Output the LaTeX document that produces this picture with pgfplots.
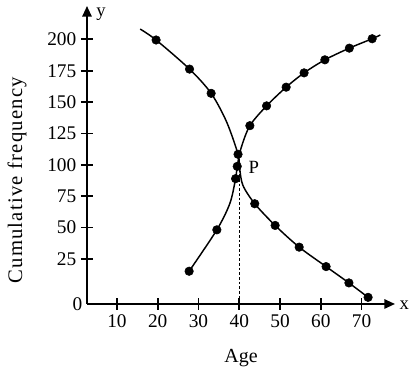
\documentclass[border=0pt]{standalone}
\usepackage{fontspec}
\setmainfont{Liberation Serif}
\usepackage{pgfplots}
\pgfplotsset{compat=1.18}
\usetikzlibrary{arrows.meta}
\begin{document}
\begin{tikzpicture}
\begin{axis}[
  scale only axis, width=231pt, height=223.5pt,
  xmin=2.65, xmax=78.2, ymin=-10.9, ymax=226.6,
  axis x line=bottom, axis y line=left,
  axis line style={line width=1.4pt, -{Triangle[length=8pt,width=7pt]}},
  xtick={10,20,...,70}, ytick={25,50,...,200},
  extra y ticks={-10.9}, extra y tick labels={0},
  extra y tick style={major tick length=0pt},
  tick align=center, major tick length=9pt,
  tick style={line width=1.3pt, black},
  ticklabel style={font=\fontsize{14.5}{17}\selectfont},
  /pgf/number format/assume math mode=true,
  xlabel={Age}, ylabel={Cumulative frequency},
  xlabel style={at={(axis description cs:0.5,-0.181)}, anchor=center, font=\fontsize{15}{18}\selectfont},
  ylabel style={at={(axis description cs:-0.227,0.415)}, anchor=center, font=\addfontfeatures{LetterSpace=6}\fontsize{15.5}{18}\selectfont},
  clip=false,
]
\coordinate (O) at (rel axis cs:0,0);
% less-than ogive
\addplot[line width=1.1pt, smooth, tension=0.5, black] coordinates {
 (27.7,15.2) (34.5,48.2) (37.7,69.3) (39.1,89.0) (39.5,98.8)
 (40.4,112.9) (42.6,131.2) (46.7,147)
 (51.5,161.9) (55.9,173.3) (61.0,183.7) (67.0,193) (72.6,200.5) (74.6,203.5)};
\addplot[only marks, mark=*, mark size=3.2pt, black] coordinates {
 (27.7,15.2) (34.5,48.2) (39.1,89.0) (39.5,98.8) (42.6,131.2) (46.7,147)
 (51.5,161.9) (55.9,173.3) (61.0,183.7) (67.0,193) (72.6,200.5)};
% more-than ogive
\addplot[line width=1.1pt, smooth, tension=0.5, black] coordinates {
 (15.7,208.2) (19.6,199.5) (27.8,176.3) (33.1,157) (36.9,134.2)
 (39.7,108.4) (40.1,97.0) (40.9,83.6)
 (43.8,69) (48.8,51.7) (54.7,34.4) (61.3,18.9) (66.9,5.9) (71.6,-5.6)};
\addplot[only marks, mark=*, mark size=3.2pt, black] coordinates {
 (19.6,199.5) (27.8,176.3) (33.1,157) (39.7,108.4)
 (43.8,69) (48.8,51.7) (54.7,34.4) (61.3,18.9) (66.9,5.9) (71.6,-5.6)};
\addplot[line width=0.8pt, dash pattern=on 2pt off 1.5pt, black] coordinates {(40,100) (40,-10.9)};
\node[font=\fontsize{14}{16}\selectfont] at (axis cs:43.6,97.8) {P};
\node[font=\fontsize{14}{16}\selectfont] at (axis cs:80.5,-12) {x};
\node[font=\fontsize{14}{16}\selectfont] at (axis cs:6.1,220.2) {y};
\end{axis}
\pgfresetboundingbox
\path ([shift={(-65.25pt,-51.75pt)}]O) rectangle ++(314.25pt,279.75pt);
\end{tikzpicture}
\end{document}
